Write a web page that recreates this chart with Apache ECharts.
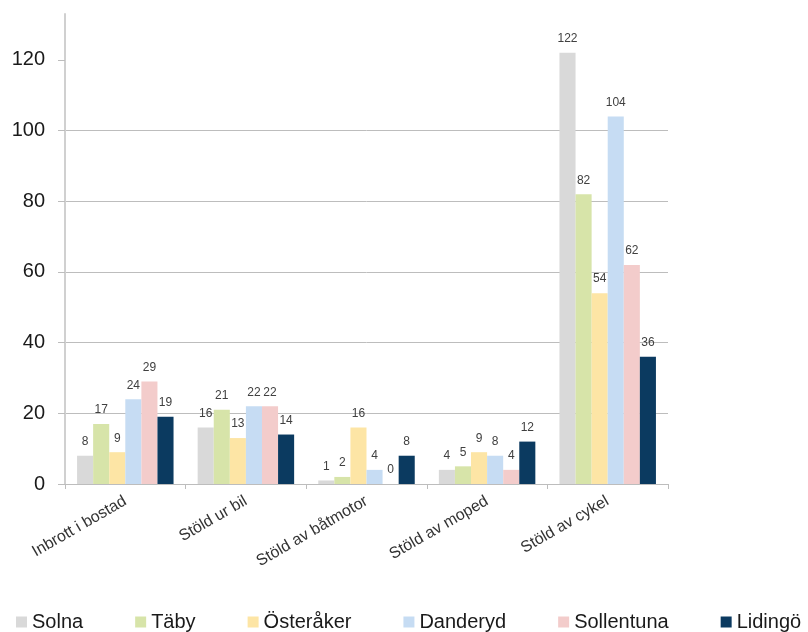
<!DOCTYPE html>
<html>
<head>
<meta charset="utf-8">
<script src="https://cdn.jsdelivr.net/npm/echarts@6/dist/echarts.min.js"></script>
<style>html,body{margin:0;padding:0;background:#fff}#c{width:808px;height:632px}</style>
</head>
<body>
<div id="c"></div>
<script>
const categories = ['Inbrott i bostad', 'Stöld ur bil', 'Stöld av båtmotor', 'Stöld av moped', 'Stöld av cykel'];
const solna = [8, 16, 1, 4, 122];
const taby = [17, 21, 2, 5, 82];
const osteraker = [9, 13, 16, 9, 54];
const danderyd = [24, 22, 4, 8, 104];
const sollentuna = [29, 22, 0, 4, 62];
const lidingo = [19, 14, 8, 12, 36];
const yTicks = [0, 20, 40, 60, 80, 100, 120];

const seriesDefs = [
  ['Solna', solna, '#d9d9d9'],
  ['Täby', taby, '#d7e4a9'],
  ['Österåker', osteraker, '#fde5a5'],
  ['Danderyd', danderyd, '#c6dcf3'],
  ['Sollentuna', sollentuna, '#f3cccb'],
  ['Lidingö', lidingo, '#0b3a60']
];

const font = 'Liberation Sans, Arial, sans-serif';
const chart = echarts.init(document.getElementById('c'), null, {renderer: 'canvas'});
chart.setOption({
  animation: false,
  backgroundColor: '#ffffff',
  textStyle: {fontFamily: font},
  grid: {left: 65, right: 140, top: 14, bottom: 148, containLabel: false},
  legend: {
    left: 16, top: 612, padding: 0,
    icon: 'rect', itemWidth: 11, itemHeight: 11, itemGap: 52,
    textStyle: {fontSize: 20, color: '#1a1a1a', fontFamily: font},
    data: seriesDefs.map(s => s[0])
  },
  xAxis: {
    type: 'category',
    data: categories,
    axisLine: {lineStyle: {color: '#bdbdbd', width: 1}},
    axisTick: {show: true, length: 5, alignWithLabel: false, lineStyle: {color: '#bdbdbd'}},
    axisLabel: {rotate: 30, margin: 16, fontSize: 16, color: '#333', fontFamily: font, interval: 0}
  },
  yAxis: {
    type: 'value',
    min: 0, max: 133,
    axisLine: {show: true, lineStyle: {color: '#d0d0d0', width: 2}},
    axisTick: {show: true, length: 7, customValues: yTicks, lineStyle: {color: '#bdbdbd'}},
    axisLabel: {customValues: yTicks, margin: 20, fontSize: 20, color: '#1a1a1a', fontFamily: font},
    splitLine: {show: true, showMaxLine: false, lineStyle: {color: '#bdbdbd', width: 1}}
  },
  series: seriesDefs.map(s => ({
    name: s[0],
    type: 'bar',
    data: s[1],
    barGap: 0,
    barCategoryGap: '20%',
    itemStyle: {color: s[2]},
    label: {show: true, position: 'top', distance: 8, fontSize: 12, color: '#404040', fontFamily: font}
  }))
});
</script>
</body>
</html>
